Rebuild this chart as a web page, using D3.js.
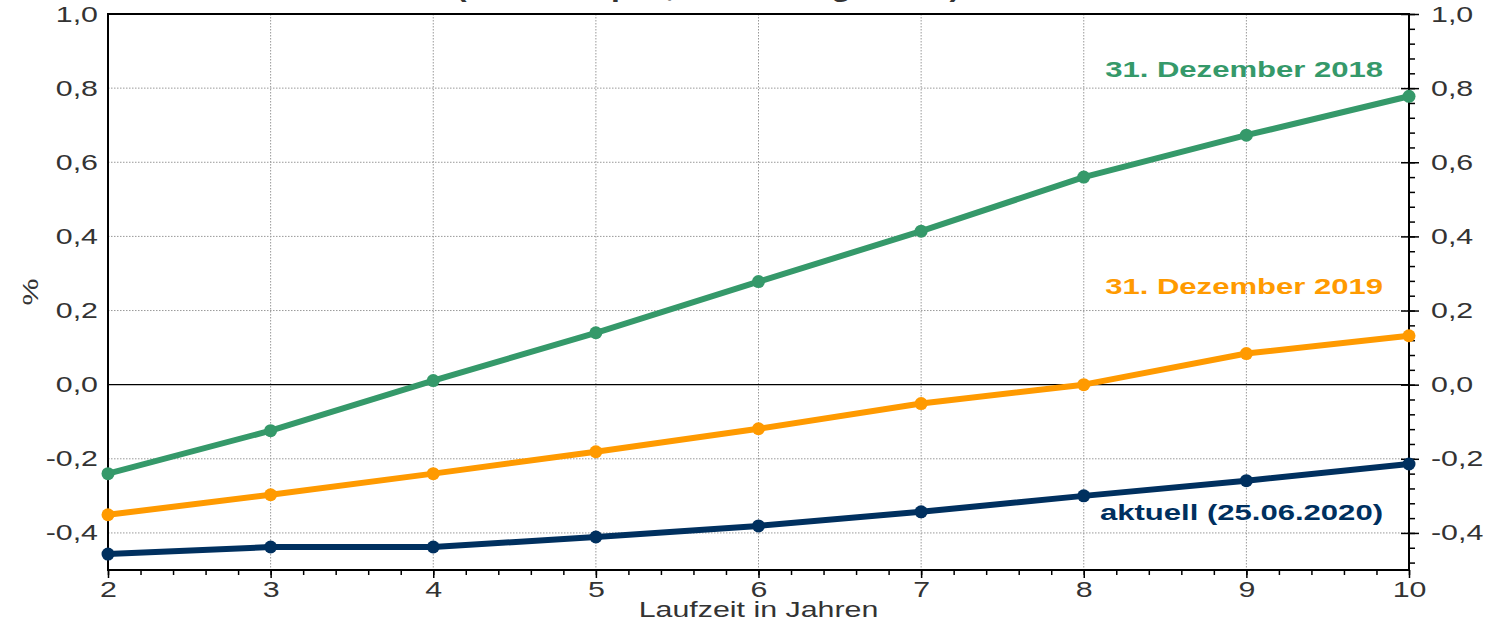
<!DOCTYPE html>
<html>
<head>
<meta charset="utf-8">
<script src="https://cdn.jsdelivr.net/npm/d3@7"></script>
<style>
  body { margin: 0; background: #fff; }
  svg { display: block; font-family: Arial, "Liberation Sans", sans-serif; }
</style>
</head>
<body>
<div id="chart"></div>
<script>
// Laufzeiten in Jahren
const maturities = [2, 3, 4, 5, 6, 7, 8, 9, 10];

// Renditen in %
const dec2018 = [-0.24, -0.124, 0.011, 0.14, 0.278, 0.414, 0.56, 0.673, 0.778];
const dec2019 = [-0.351, -0.297, -0.24, -0.181, -0.119, -0.051, 0.0, 0.084, 0.132];
const current = [-0.457, -0.438, -0.438, -0.411, -0.381, -0.343, -0.3, -0.259, -0.214];

const seriesNames = ["31. Dezember 2018", "31. Dezember 2019", "aktuell (25.06.2020)"];
const yTicks = [-0.4, -0.2, 0.0, 0.2, 0.4, 0.6, 0.8, 1.0];

const width = 1486, height = 622;
const margin = { top: 14, right: 77, bottom: 52, left: 108 };
const SX = 1.38; // the reference text is stretched horizontally

const svg = d3.select("#chart").append("svg")
    .attr("width", width)
    .attr("height", height);

const x = d3.scaleLinear().domain([2, 10]).range([margin.left, width - margin.right]);
const y = d3.scaleLinear().domain([-0.5, 1.0]).range([height - margin.bottom, margin.top]);

const fmt = d => d3.format(".1f")(d).replace(".", ",").replace("−", "-");

// widen text around its anchor
function stretch(sel) {
    sel.each(function() {
        const t = d3.select(this);
        const tx = +t.attr("x") || 0;
        const ty = +t.attr("y") || 0;
        t.attr("x", 0).attr("y", 0)
         .attr("transform", `translate(${tx},${ty}) scale(${SX},1)`);
    });
}

// title (cut off at top of the picture)
svg.append("text")
    .attr("x", 708)
    .attr("y", -3)
    .attr("text-anchor", "middle")
    .attr("font-size", 23)
    .attr("font-weight", "bold")
    .attr("fill", "#333")
    .text("(Renditen p.a., Bloomberg-Daten)")
    .call(stretch);

// grid
svg.append("g")
    .selectAll("line")
    .data(maturities.slice(1, -1))
    .join("line")
    .attr("x1", d => x(d)).attr("x2", d => x(d))
    .attr("y1", y(1.0)).attr("y2", y(-0.5))
    .attr("stroke", "#999")
    .attr("stroke-width", 1)
    .attr("stroke-dasharray", "1.5,1.5");

svg.append("g")
    .selectAll("line")
    .data(yTicks.filter(d => d !== 0 && d !== 1))
    .join("line")
    .attr("x1", x(2)).attr("x2", x(10))
    .attr("y1", d => y(d)).attr("y2", d => y(d))
    .attr("stroke", "#999")
    .attr("stroke-width", 1)
    .attr("stroke-dasharray", "1.5,1.5");

// zero line
svg.append("line")
    .attr("x1", x(2)).attr("x2", x(10))
    .attr("y1", y(0)).attr("y2", y(0))
    .attr("stroke", "#000")
    .attr("stroke-width", 1.2);

// bottom axis: minor ticks then major ticks
const xMinor = d3.range(2, 10.001, 0.2);
svg.append("g")
    .attr("transform", `translate(0,${y(-0.5)})`)
    .call(d3.axisBottom(x).tickValues(xMinor).tickSize(5).tickFormat(""))
    .call(g => g.select(".domain").remove())
    .call(g => g.selectAll("line").attr("stroke", "#000").attr("stroke-width", 1.5));

svg.append("g")
    .attr("transform", `translate(0,${y(-0.5)})`)
    .call(d3.axisBottom(x).tickValues(maturities).tickSize(8).tickFormat(d3.format("d")))
    .call(g => g.select(".domain").remove())
    .call(g => g.selectAll("line").attr("stroke", "#000").attr("stroke-width", 1.5))
    .call(g => g.selectAll("text")
        .attr("font-size", 22)
        .attr("fill", "#333")
        .attr("y", 11)
        .attr("dy", "0.71em")
        .call(stretch));

// right axis
const yMinor = d3.range(-0.48, 1.0001, 0.04);
svg.append("g")
    .attr("transform", `translate(${x(10)},0)`)
    .call(d3.axisRight(y).tickValues(yMinor).tickSize(6).tickFormat(""))
    .call(g => g.select(".domain").remove())
    .call(g => g.selectAll("line").attr("stroke", "#000").attr("stroke-width", 1.5));

svg.append("g")
    .attr("transform", `translate(${x(10)},0)`)
    .call(d3.axisRight(y).tickValues(yTicks).tickSize(10).tickFormat(fmt))
    .call(g => g.select(".domain").remove())
    .call(g => g.selectAll("line").attr("x1", -8).attr("stroke", "#000").attr("stroke-width", 1.5))
    .call(g => g.selectAll("text")
        .attr("x", 22)
        .attr("font-size", 22)
        .attr("fill", "#333")
        .call(stretch));

// left axis labels
svg.append("g")
    .attr("transform", `translate(${x(2)},0)`)
    .call(d3.axisLeft(y).tickValues(yTicks).tickSize(0).tickFormat(fmt))
    .call(g => g.select(".domain").remove())
    .call(g => g.selectAll("text")
        .attr("x", -10)
        .attr("font-size", 22)
        .attr("fill", "#333")
        .call(stretch));

// frame
svg.append("rect")
    .attr("x", x(2)).attr("y", y(1.0))
    .attr("width", x(10) - x(2))
    .attr("height", y(-0.5) - y(1.0))
    .attr("fill", "none")
    .attr("stroke", "#000")
    .attr("stroke-width", 2);

// axis titles
svg.append("text")
    .attr("x", (x(2) + x(10)) / 2)
    .attr("y", 617)
    .attr("text-anchor", "middle")
    .attr("font-size", 22)
    .attr("fill", "#333")
    .text("Laufzeit in Jahren")
    .call(stretch);

svg.append("text")
    .attr("transform", `translate(38,${y(0.25)}) rotate(-90) scale(${SX},1)`)
    .attr("text-anchor", "middle")
    .attr("font-size", 22)
    .attr("fill", "#333")
    .text("%");

// series
const series = [
    { name: seriesNames[0], values: dec2018, color: "#35996a", labelY: 0.83 },
    { name: seriesNames[1], values: dec2019, color: "#ff9a00", labelY: 0.245 },
    { name: seriesNames[2], values: current, color: "#00305f", labelY: -0.365 }
];

const line = d3.line()
    .x((d, i) => x(maturities[i]))
    .y(d => y(d));

const plot = svg.append("g");

series.forEach(s => {
    plot.append("path")
        .datum(s.values)
        .attr("d", line)
        .attr("fill", "none")
        .attr("stroke", s.color)
        .attr("stroke-width", 6)
        .attr("stroke-linejoin", "round");

    plot.selectAll(null)
        .data(s.values)
        .join("circle")
        .attr("cx", (d, i) => x(maturities[i]))
        .attr("cy", d => y(d))
        .attr("r", 6.5)
        .attr("fill", s.color);

    svg.append("text")
        .attr("x", 1383)
        .attr("y", y(s.labelY))
        .attr("text-anchor", "end")
        .attr("font-size", 22.5)
        .attr("font-weight", "bold")
        .attr("fill", s.color)
        .text(s.name)
        .call(stretch);
});
</script>
</body>
</html>
